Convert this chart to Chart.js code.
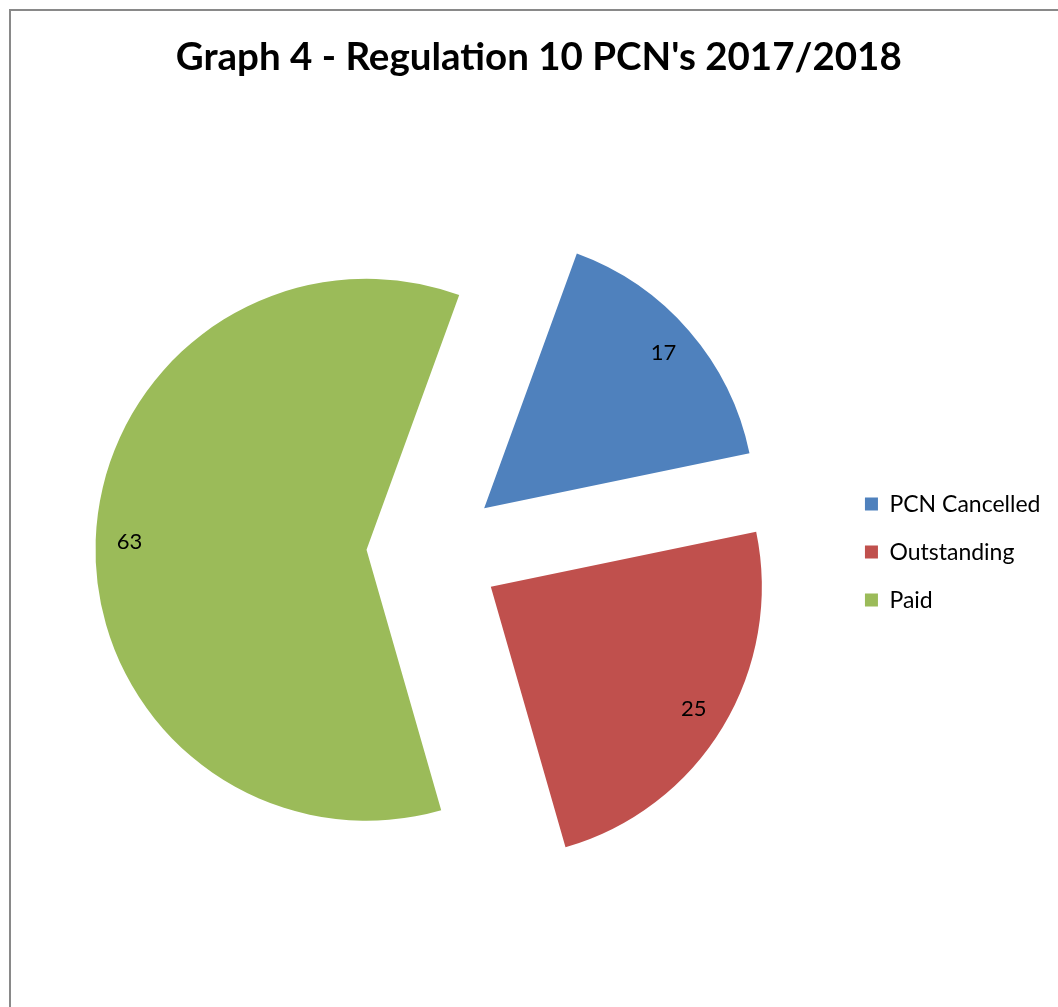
<!DOCTYPE html>
<html><head><meta charset="utf-8">
<script src="https://cdn.jsdelivr.net/npm/chart.js@4/dist/chart.umd.min.js"></script>
<style>html,body{margin:0;padding:0;background:#fff;} canvas{display:block;}</style>
</head><body>
<canvas id="c" width="1058" height="1007"></canvas>
<script>
const categories = ['PCN Cancelled', 'Outstanding', 'Paid'];
const values = [17, 25, 63];
const sliceColors = ['#4F81BD', '#C0504D', '#9BBB59'];
const chartTitle = "Graph 4 - Regulation 10 PCN's 2017/2018";

const EXPLODE = 67;
const PIE_RADIUS = 271;

const framePlugin = {
  id: 'frame',
  beforeDraw(chart) {
    const ctx = chart.ctx;
    ctx.save();
    ctx.fillStyle = '#fff';
    ctx.fillRect(0, 0, chart.width, chart.height);
    ctx.strokeStyle = '#898989';
    ctx.lineWidth = 2;
    ctx.beginPath();
    ctx.moveTo(10, chart.height);
    ctx.lineTo(10, 10);
    ctx.lineTo(chart.width, 10);
    ctx.stroke();
    ctx.restore();
  }
};

const explodePlugin = {
  id: 'explode',
  beforeDatasetsDraw(chart) {
    const a = chart.chartArea;
    const cx = (a.left + a.right) / 2, cy = (a.top + a.bottom) / 2;
    chart.getDatasetMeta(0).data.forEach(arc => {
      const mid = (arc.startAngle + arc.endAngle) / 2;
      arc.x = cx + Math.cos(mid) * EXPLODE;
      arc.y = cy + Math.sin(mid) * EXPLODE;
    });
  }
};

const labelPlugin = {
  id: 'sliceLabels',
  afterDatasetsDraw(chart) {
    const ctx = chart.ctx;
    const ds = chart.data.datasets[0];
    ctx.save();
    ctx.font = '22px Lato';
    ctx.fillStyle = '#000';
    ctx.textAlign = 'center';
    ctx.textBaseline = 'middle';
    chart.getDatasetMeta(0).data.forEach((arc, i) => {
      const mid = (arc.startAngle + arc.endAngle) / 2;
      const r = arc.outerRadius * 0.875;
      ctx.fillText(String(ds.data[i]), arc.x + Math.cos(mid) * r, arc.y + Math.sin(mid) * r);
    });
    ctx.restore();
  }
};

function build() {
  new Chart(document.getElementById('c'), {
    type: 'pie',
    data: {
      labels: categories,
      datasets: [{
        data: values,
        backgroundColor: sliceColors,
        borderWidth: 0
      }]
    },
    options: {
      responsive: false,
      animation: false,
      events: [],
      rotation: 20,
      radius: PIE_RADIUS,
      layout: { padding: { left: 27, right: 7.5, top: 0, bottom: 15 } },
      plugins: {
        title: {
          display: true,
          text: chartTitle,
          color: '#000',
          font: { family: 'Lato', size: 38.5, weight: 'bold', lineHeight: 1.2 },
          padding: { top: 34, bottom: 32 }
        },
        legend: {
          position: 'right',
          fullSize: false,
          labels: {
            color: '#000',
            font: { family: 'Lato', size: 23 },
            boxWidth: 13,
            boxHeight: 13,
            padding: 25
          }
        },
        tooltip: { enabled: false }
      }
    },
    plugins: [framePlugin, explodePlugin, labelPlugin]
  });
}
if (document.fonts && document.fonts.load) {
  Promise.all([document.fonts.load('bold 38px Lato'), document.fonts.load('23px Lato')]).then(build, build);
} else { build(); }
</script>
</body></html>
